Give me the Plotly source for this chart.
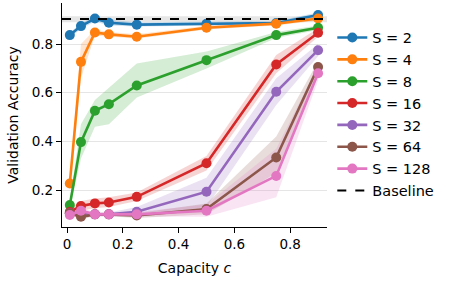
import plotly.graph_objects as go

capacity = [0.01, 0.05, 0.1, 0.15, 0.25, 0.5, 0.75, 0.9]
labels = ["S = 2", "S = 4", "S = 8", "S = 16", "S = 32", "S = 64", "S = 128"]
colors = ["#1f77b4", "#ff7f0e", "#2ca02c", "#d62728", "#9467bd", "#8c564b", "#e377c2"]
fills = ["rgba(31,119,180,0.2)", "rgba(255,127,14,0.2)", "rgba(44,160,44,0.2)",
         "rgba(214,39,40,0.2)", "rgba(148,103,189,0.2)", "rgba(140,86,75,0.2)",
         "rgba(227,119,194,0.2)"]

s2 = [0.837, 0.874, 0.905, 0.888, 0.880, 0.884, 0.887, 0.920]
s4 = [0.227, 0.727, 0.848, 0.840, 0.830, 0.867, 0.884, 0.905]
s8 = [0.138, 0.397, 0.526, 0.553, 0.630, 0.734, 0.837, 0.867]
s16 = [0.110, 0.134, 0.145, 0.149, 0.172, 0.310, 0.716, 0.847]
s32 = [0.105, 0.105, 0.100, 0.100, 0.111, 0.193, 0.604, 0.775]
s64 = [0.105, 0.090, 0.100, 0.100, 0.095, 0.122, 0.334, 0.706]
s128 = [0.097, 0.115, 0.100, 0.100, 0.100, 0.115, 0.258, 0.680]

s2_lo = [0.827, 0.862, 0.893, 0.876, 0.872, 0.876, 0.880, 0.910]
s2_hi = [0.847, 0.886, 0.915, 0.900, 0.890, 0.892, 0.895, 0.930]
s4_lo = [0.210, 0.660, 0.835, 0.830, 0.822, 0.860, 0.876, 0.897]
s4_hi = [0.245, 0.800, 0.860, 0.850, 0.840, 0.875, 0.892, 0.913]
s8_lo = [0.120, 0.330, 0.460, 0.470, 0.580, 0.700, 0.825, 0.858]
s8_hi = [0.160, 0.470, 0.570, 0.620, 0.720, 0.770, 0.850, 0.876]
s16_lo = [0.095, 0.115, 0.125, 0.130, 0.155, 0.280, 0.680, 0.830]
s16_hi = [0.125, 0.155, 0.165, 0.170, 0.190, 0.340, 0.755, 0.865]
s32_lo = [0.095, 0.095, 0.092, 0.092, 0.090, 0.130, 0.550, 0.750]
s32_hi = [0.115, 0.115, 0.108, 0.108, 0.130, 0.250, 0.660, 0.800]
s64_lo = [0.095, 0.080, 0.092, 0.092, 0.085, 0.100, 0.270, 0.680]
s64_hi = [0.115, 0.100, 0.108, 0.108, 0.105, 0.145, 0.420, 0.730]
s128_lo = [0.087, 0.102, 0.092, 0.092, 0.090, 0.090, 0.170, 0.650]
s128_hi = [0.107, 0.128, 0.108, 0.108, 0.110, 0.140, 0.370, 0.710]

baseline = 0.903
baseline_lo = 0.890
baseline_hi = 0.915

series = [s2, s4, s8, s16, s32, s64, s128]
lows = [s2_lo, s4_lo, s8_lo, s16_lo, s32_lo, s64_lo, s128_lo]
highs = [s2_hi, s4_hi, s8_hi, s16_hi, s32_hi, s64_hi, s128_hi]

x_range = [-0.018, 0.932]
y_range = [0.048, 0.969]

fig = go.Figure()

# baseline band
fig.add_trace(go.Scatter(x=x_range, y=[baseline_lo] * 2, mode="lines",
                         line=dict(width=0), showlegend=False, hoverinfo="skip"))
fig.add_trace(go.Scatter(x=x_range, y=[baseline_hi] * 2, mode="lines",
                         line=dict(width=0), fill="tonexty",
                         fillcolor="rgba(128,128,128,0.2)", showlegend=False, hoverinfo="skip"))

for lo, hi, fc in zip(lows, highs, fills):
    fig.add_trace(go.Scatter(x=capacity, y=lo, mode="lines", line=dict(width=0),
                             showlegend=False, hoverinfo="skip"))
    fig.add_trace(go.Scatter(x=capacity, y=hi, mode="lines", line=dict(width=0),
                             fill="tonexty", fillcolor=fc, showlegend=False, hoverinfo="skip"))

for ys, lab, c in zip(series, labels, colors):
    fig.add_trace(go.Scatter(x=capacity, y=ys, mode="lines+markers", name=lab,
                             line=dict(color=c, width=2.6),
                             marker=dict(color=c, size=10), cliponaxis=False))

fig.add_trace(go.Scatter(x=x_range, y=[baseline] * 2, mode="lines", name="Baseline",
                         line=dict(color="black", width=2, dash="dash")))

fig.update_layout(
    width=449, height=283,
    margin=dict(l=62, r=122, t=3, b=56, autoexpand=False),
    plot_bgcolor="white", paper_bgcolor="white",
    font=dict(family="DejaVu Sans", size=13, color="black"),
    showlegend=True,
    legend=dict(x=1.02, y=0.917, xanchor="left", yanchor="top",
                font=dict(size=14.5), tracegroupgap=0, itemwidth=30,
                traceorder="normal", bgcolor="rgba(0,0,0,0)"),
)
fig.update_xaxes(range=x_range, tickvals=[0, 0.2, 0.4, 0.6, 0.8],
                 ticktext=["0", "0.2", "0.4", "0.6", "0.8"],
                 showline=True, linecolor="black", linewidth=1.2,
                 ticks="outside", ticklen=5, tickcolor="black",
                 showgrid=False, zeroline=False, automargin=False,
                 tickfont=dict(size=13.5),
                 title=dict(text="Capacity <i>c</i>", font=dict(size=14), standoff=11))
fig.update_yaxes(range=y_range, tickvals=[0.2, 0.4, 0.6, 0.8],
                 ticktext=["0.2", "0.4", "0.6", "0.8"],
                 showline=True, linecolor="black", linewidth=1.2,
                 ticks="outside", ticklen=5, tickcolor="black",
                 showgrid=True, gridcolor="rgba(0,0,0,0.1)", gridwidth=1.2,
                 zeroline=False, automargin=False,
                 tickfont=dict(size=13.5),
                 title=dict(text="Validation Accuracy", font=dict(size=14), standoff=9))

fig.write_html("out.html", config={"displayModeBar": False},
               post_script="document.body.style.margin='0px';")
